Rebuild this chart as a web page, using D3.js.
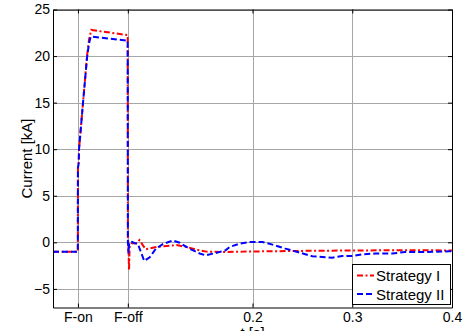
<!DOCTYPE html>
<html>
<head>
<meta charset="utf-8">
<script src="https://cdn.jsdelivr.net/npm/d3@7"></script>
<style>
  html, body { margin: 0; padding: 0; background: #fff; }
  svg { display: block; font-family: "Liberation Sans", Arial, sans-serif; }
</style>
</head>
<body>
<svg id="chart" width="468" height="331"></svg>
<script>
// Fault current for the two control strategies
const tickX = [0.025, 0.075, 0.2, 0.3, 0.4];
const tickXLabels = ["F-on", "F-off", "0.2", "0.3", "0.4"];
const tickY = [-5, 0, 5, 10, 15, 20, 25];

const timeI = [0, 0.0249, 0.0250, 0.0255, 0.0258, 0.0261, 0.0301, 0.0341, 0.0362, 0.0384,
  0.0749, 0.0751, 0.0756, 0.0762, 0.0768, 0.0790, 0.0835, 0.0867, 0.0900, 0.0930,
  0.097, 0.104, 0.114, 0.124, 0.134, 0.144, 0.154, 0.17, 0.19, 0.21, 0.25, 0.3, 0.35, 0.4];
const currentI = [-1.0, -1.0, 8.0, 8.3, 8.6, 10, 15, 20, 21.8, 22.8,
  22.25, 0.5, -0.2, -3.0, -0.5, -0.1, -0.1, 0.25, -0.3, -0.75,
  -0.65, -0.5, -0.4, -0.3, -0.5, -0.8, -1.0, -1.05, -1.0, -0.97, -0.92, -0.88, -0.85, -0.87];

const timeII = [0, 0.0249, 0.0250, 0.0255, 0.0258, 0.0261, 0.0301, 0.0341, 0.0360, 0.0378,
  0.0749, 0.0751, 0.0756, 0.0765, 0.079, 0.082, 0.085, 0.0915, 0.097, 0.103,
  0.110, 0.120, 0.127, 0.137, 0.147, 0.153, 0.163, 0.173, 0.177, 0.187,
  0.197, 0.210, 0.220, 0.233, 0.247, 0.260, 0.270, 0.280, 0.290, 0.300,
  0.310, 0.323, 0.340, 0.353, 0.373, 0.397, 0.4];
const currentII = [-1.0, -1.0, 8.0, 8.3, 8.6, 10, 15, 19.8, 21.3, 22.1,
  21.65, 0, -1.2, 0, 0.05, -0.1, -0.15, -2.0, -1.6, -0.7,
  -0.2, 0.2, -0.05, -0.7, -1.2, -1.4, -1.15, -0.86, -0.5, -0.15,
  0.03, 0.03, -0.25, -0.68, -1.1, -1.5, -1.57, -1.65, -1.47, -1.47,
  -1.3, -1.2, -1.2, -1.04, -1.04, -0.97, -0.97];

const seriesNames = ["Strategy I", "Strategy II"];
const seriesColors = ["#ff0000", "#0000ff"];
const seriesDash = ["6,2.5,2,2.5", "6,3"];

const svg = d3.select("#chart");
const plotLeft = 53, plotRight = 452, plotTop = 9.5, plotBottom = 307.5;

const x = d3.scaleLinear().domain([0, 0.4]).range([plotLeft, plotRight]);
const y = d3.scaleLinear().domain([-7, 25]).range([plotBottom, plotTop]);

// grid
const grid = svg.append("g").attr("stroke", "#a6a6a6").attr("stroke-width", 1);
grid.selectAll(".gx").data(tickX).join("line")
  .attr("x1", d => Math.round(x(d)) + 0.5).attr("x2", d => Math.round(x(d)) + 0.5)
  .attr("y1", plotTop).attr("y2", plotBottom);
grid.selectAll(".gy").data(tickY).join("line")
  .attr("y1", d => Math.round(y(d)) + 0.5).attr("y2", d => Math.round(y(d)) + 0.5)
  .attr("x1", plotLeft).attr("x2", plotRight);

// axes with inward ticks
const fmtX = (d, i) => tickXLabels[i];
const axB = d3.axisBottom(x).tickValues(tickX).tickFormat(fmtX).tickSizeInner(-4).tickSizeOuter(0).tickPadding(5);
const axT = d3.axisTop(x).tickValues(tickX).tickFormat("").tickSizeInner(-4).tickSizeOuter(0);
const axL = d3.axisLeft(y).tickValues(tickY).tickFormat(d3.format("d")).tickSizeInner(-4).tickSizeOuter(0).tickPadding(3);
const axR = d3.axisRight(y).tickValues(tickY).tickFormat("").tickSizeInner(-4).tickSizeOuter(0);

function style(g) {
  g.selectAll("path").attr("stroke", "#000");
  g.selectAll("line").attr("stroke", "#000");
  g.selectAll("text").attr("fill", "#000").style("font-size", "14px")
    .style("font-family", '"Liberation Sans", Arial, sans-serif');
}

// curves
const line = d3.line().x(d => x(d[0])).y(d => y(d[1]));
const series = [d3.zip(timeI, currentI), d3.zip(timeII, currentII)];
series.forEach((pts, i) => {
  svg.append("path").datum(pts)
    .attr("d", line)
    .attr("fill", "none")
    .attr("stroke", seriesColors[i])
    .attr("stroke-width", 2)
    .attr("stroke-dasharray", seriesDash[i]);
});

svg.append("g").attr("transform", `translate(0,${plotBottom})`).call(axB).call(style);
svg.append("g").attr("transform", `translate(0,${plotTop})`).call(axT).call(style);
svg.append("g").attr("transform", `translate(${plotLeft},0)`).call(axL).call(style);
svg.append("g").attr("transform", `translate(${plotRight},0)`).call(axR).call(style);

// axis titles
svg.append("text")
  .attr("transform", `translate(32,${(plotTop + plotBottom) / 2}) rotate(-90)`)
  .attr("text-anchor", "middle")
  .style("font-size", "15px")
  .text("Current [kA]");
svg.append("text")
  .attr("x", (plotLeft + plotRight) / 2).attr("y", 338)
  .attr("text-anchor", "middle")
  .style("font-size", "15px")
  .text("t [s]");

// legend
const lg = svg.append("g");
lg.append("rect").attr("x", 352.5).attr("y", 264.5).attr("width", 98).attr("height", 40)
  .attr("fill", "#fff").attr("stroke", "#000").attr("stroke-width", 1);
seriesNames.forEach((name, i) => {
  const yy = 275.5 + i * 18.5;
  lg.append("line").attr("x1", 357).attr("x2", 374).attr("y1", yy).attr("y2", yy)
    .attr("stroke", seriesColors[i]).attr("stroke-width", 2)
    .attr("stroke-dasharray", seriesDash[i]);
  lg.append("text").attr("x", 376).attr("y", yy + 5.5)
    .style("font-size", "15px").text(name);
});
</script>
</body>
</html>
